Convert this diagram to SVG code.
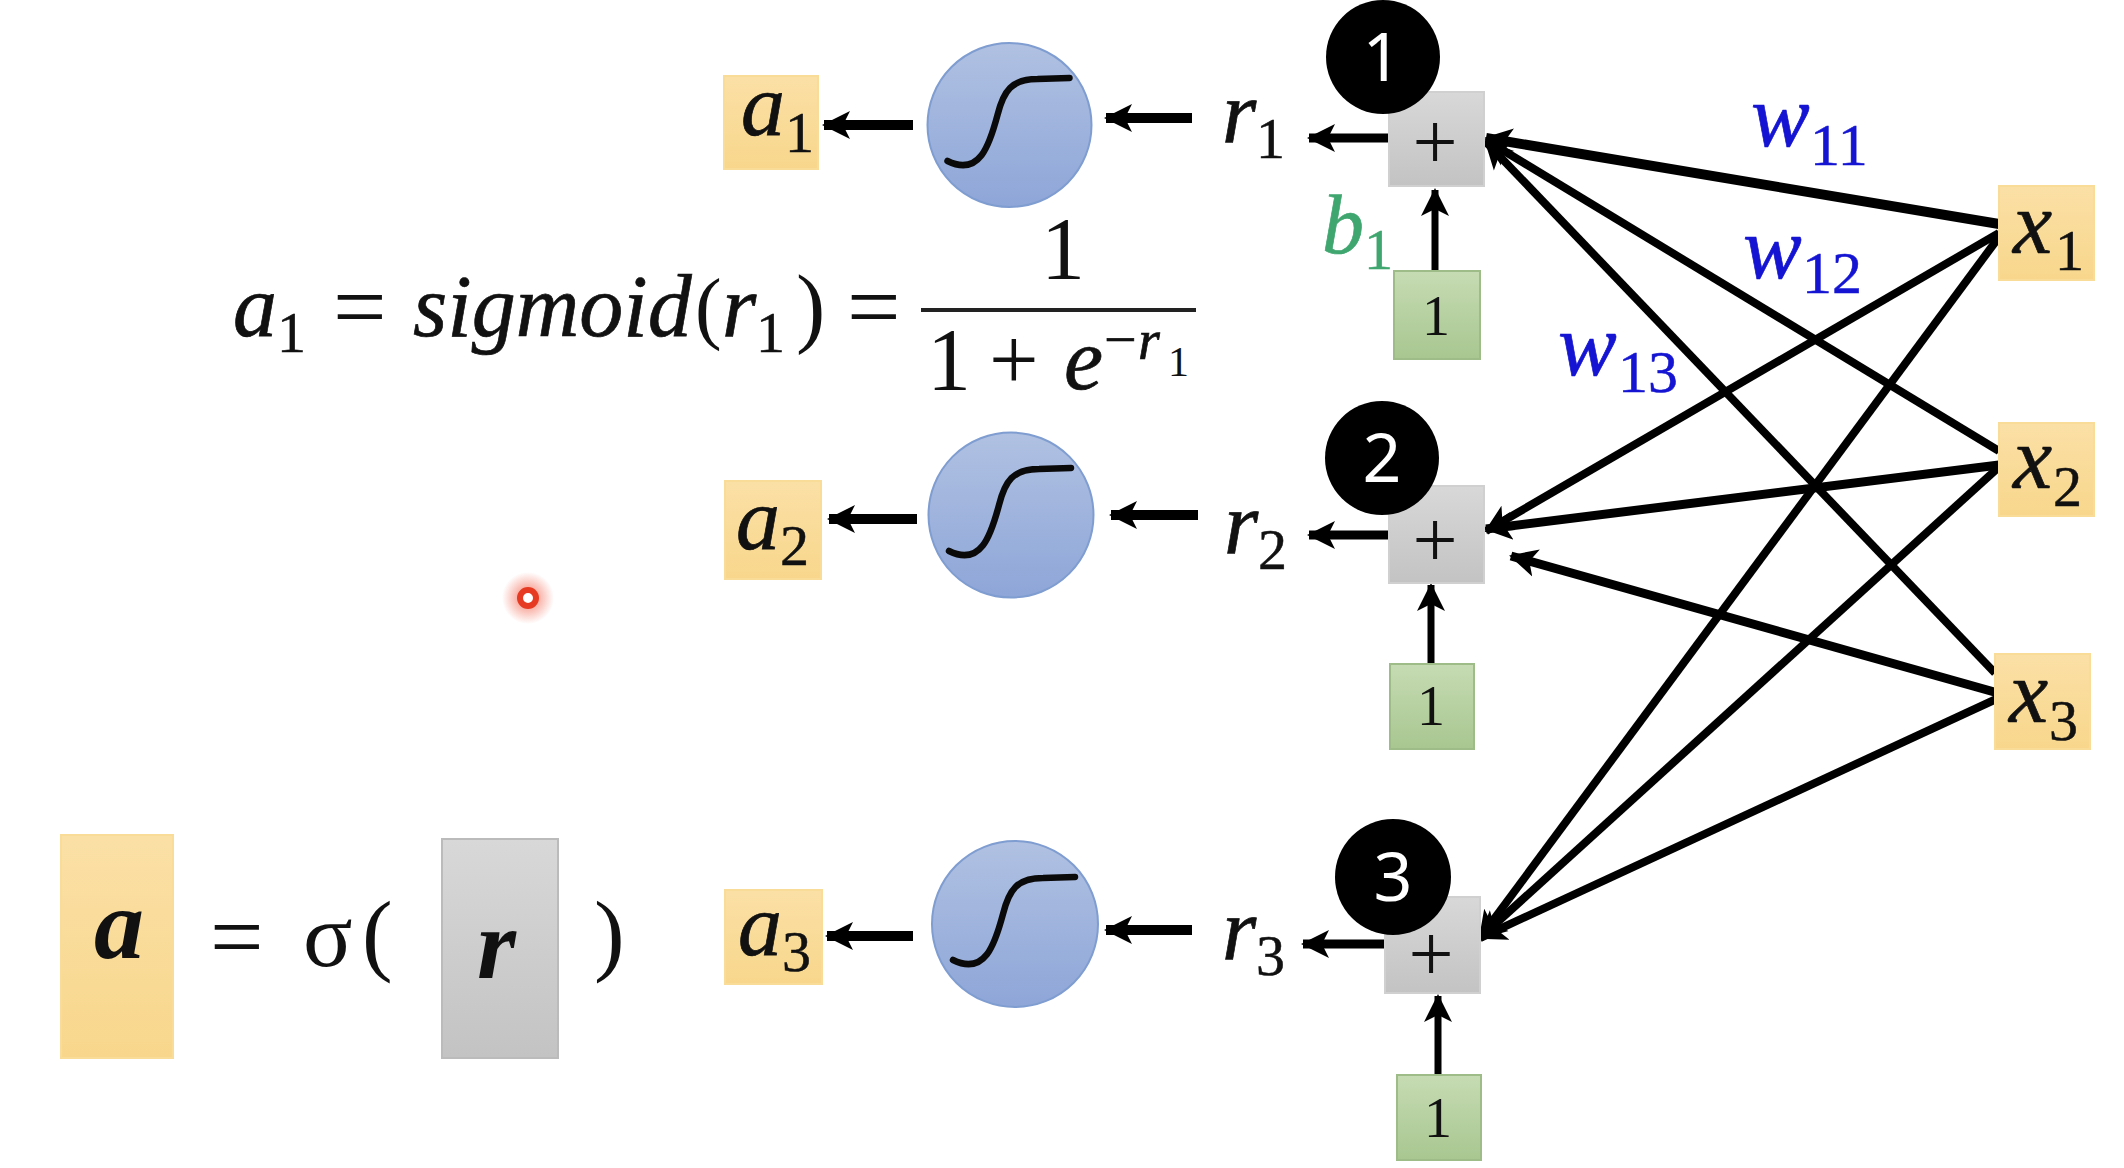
<svg xmlns="http://www.w3.org/2000/svg" width="2124" height="1168" viewBox="0 0 2124 1168">
<style>
text{font-family:"Liberation Serif","DejaVu Serif",serif;fill:#111}
.i{font-style:italic;font-size:88px;stroke:#111;stroke-width:.7}
.s{font-size:58px;stroke:#111;stroke-width:.5}
.m{font-size:88px}
.e{font-size:95px}
.w{font-style:italic;font-size:88px;fill:#1414d2;stroke:#1414d2;stroke-width:.7}
.ws{font-size:60px;fill:#1414d2;stroke:#1414d2;stroke-width:.5}
.gt{fill:#3fa66f;stroke:#3fa66f}
.b{font-family:"Noto Sans","Liberation Sans",sans-serif;font-size:68px;fill:#fff;text-anchor:middle}
.o{font-size:56px;text-anchor:middle}
.p{font-size:80px;text-anchor:middle}
.y{fill:url(#gy);stroke:#f8dc98;stroke-width:2}
.g{fill:url(#gg);stroke:#d0d0d0;stroke-width:2}
.n{fill:url(#gn);stroke:#9dbc88;stroke-width:2}
.c{fill:url(#gb);stroke:#7f9dd0;stroke-width:2}
.k{fill:#000}
.sg{fill:none;stroke:#0a0a0a;stroke-width:6.5;stroke-linecap:round}
.a{fill:none;stroke:#000;stroke-width:9;marker-end:url(#ah)}
.t{stroke-width:10}
.h{stroke-width:8}
.v{stroke-width:7}
</style>
<defs>
<linearGradient id="gy" x1="0" y1="0" x2="0" y2="1"><stop offset="0" stop-color="#fbe0a6"/><stop offset="1" stop-color="#f8d78c"/></linearGradient>
<linearGradient id="gg" x1="0" y1="0" x2="0" y2="1"><stop offset="0" stop-color="#d8d8d8"/><stop offset="1" stop-color="#c3c3c3"/></linearGradient>
<linearGradient id="gn" x1="0" y1="0" x2="0" y2="1"><stop offset="0" stop-color="#c6dbb3"/><stop offset="1" stop-color="#a8c790"/></linearGradient>
<linearGradient id="gb" x1="0" y1="0" x2="0" y2="1"><stop offset="0" stop-color="#b0c1e2"/><stop offset="1" stop-color="#8ea6d8"/></linearGradient>
<radialGradient id="halo"><stop offset="0.3" stop-color="#f04a30" stop-opacity="0.5"/><stop offset="1" stop-color="#f04a30" stop-opacity="0"/></radialGradient>
<marker id="ah" markerUnits="userSpaceOnUse" markerWidth="30" markerHeight="30" refX="26" refY="14" orient="auto" viewBox="0 0 30 28"><path d="M0,0L28,14L0,28L7,14Z" fill="#000"/></marker>
<path id="curve" class="sg" d="M-62,36C-30,52-20,20-12,-10C-6,-34 2,-46 28,-46L60,-47"/>
</defs>
<rect width="2124" height="1168" fill="#fff"/>

<g id="connectors">
<path class="a t" d="M1999,224L1486,138"/>
<path class="a h" d="M1999,451L1486,140"/>
<path class="a h" d="M1995,673L1486,142"/>
<path class="a h" d="M1999,233L1486,531"/>
<path class="a" d="M1999,465L1486,529"/>
<path class="a" d="M2005,695L1511,556"/>
<path class="a h" d="M1999,237L1480,938"/>
<path class="a h" d="M1999,467L1480,938"/>
<path class="a h" d="M2005,695L1480,938"/>
<path class="a t" d="M913,125L824,125"/>
<path class="a t" d="M1192,118L1106,118"/>
<path class="a" d="M1389,138L1309,138"/>
<path class="a t" d="M917,519L829,519"/>
<path class="a t" d="M1198,515L1111,515"/>
<path class="a" d="M1389,535L1309,535"/>
<path class="a t" d="M913,936L827,936"/>
<path class="a t" d="M1192,930L1106,930"/>
<path class="a" d="M1385,944L1303,944"/>
<path class="a v" d="M1435,271L1435,190"/>
<path class="a v" d="M1431,664L1431,585"/>
<path class="a v" d="M1438,1075L1438,996"/>
</g>

<g id="plus1"><rect class="g" x="1389" y="92" width="95" height="94"/><text class="p" x="1435" y="169">+</text></g>
<g id="plus2"><rect class="g" x="1389" y="486" width="95" height="97"/><text class="p" x="1435" y="567">+</text></g>
<g id="plus3"><rect class="g" x="1385" y="897" width="95" height="96"/><text class="p" x="1431" y="981">+</text></g>

<g id="badge1"><circle class="k" cx="1383" cy="57" r="57"/><text class="b" x="1382" y="81">1</text></g>
<g id="badge2"><circle class="k" cx="1382" cy="458" r="57"/><text class="b" x="1382" y="482">2</text></g>
<g id="badge3"><circle class="k" cx="1393" cy="877" r="58"/><text class="b" x="1393" y="901">3</text></g>

<g id="one1"><rect class="n" x="1394" y="271" width="86" height="88"/><text class="o" x="1436" y="335">1</text></g>
<g id="one2"><rect class="n" x="1390" y="664" width="84" height="85"/><text class="o" x="1431" y="725">1</text></g>
<g id="one3"><rect class="n" x="1397" y="1075" width="84" height="85"/><text class="o" x="1438" y="1137">1</text></g>

<g id="x1"><rect class="y" x="1999" y="186" width="95" height="94"/><text class="i" x="2013" y="253">x</text><text class="s" x="2055" y="270">1</text></g>
<g id="x2"><rect class="y" x="1999" y="423" width="95" height="93"/><text class="i" x="2013" y="488">x</text><text class="s" x="2053" y="506">2</text></g>
<g id="x3"><rect class="y" x="1995" y="654" width="95" height="95"/><text class="i" x="2009" y="722">x</text><text class="s" x="2049" y="740">3</text></g>

<g id="a1"><rect class="y" x="724" y="76" width="94" height="93"/><text class="i" x="741" y="135">a</text><text class="s" x="785" y="152">1</text></g>
<g id="a2"><rect class="y" x="725" y="481" width="96" height="98"/><text class="i" x="736" y="549">a</text><text class="s" x="780" y="565">2</text></g>
<g id="a3"><rect class="y" x="725" y="890" width="97" height="94"/><text class="i" x="738" y="955">a</text><text class="s" x="782" y="971">3</text></g>

<g id="sigmoid1"><circle class="c" cx="1009.500" cy="125" r="82"/><use href="#curve" x="1009.500" y="125"/></g>
<g id="sigmoid2"><circle class="c" cx="1011" cy="515" r="82.500"/><use href="#curve" x="1011" y="515"/></g>
<g id="sigmoid3"><circle class="c" cx="1015" cy="924" r="83"/><use href="#curve" x="1015" y="924"/></g>

<g id="r-labels">
<text class="i" x="1222" y="142">r</text><text class="s" x="1256" y="158">1</text>
<text class="i" x="1224" y="553">r</text><text class="s" x="1258" y="569">2</text>
<text class="i" x="1222" y="959">r</text><text class="s" x="1256" y="975">3</text>
<text class="i gt" style="font-size:84px" x="1322" y="253">b</text><text class="s gt" x="1364" y="269">1</text>
</g>

<g id="weights">
<text class="w" x="1751" y="146">w</text><text class="ws" x="1810" y="165">11</text>
<text class="w" x="1743" y="278">w</text><text class="ws" x="1802" y="293">12</text>
<text class="w" x="1558" y="375">w</text><text class="ws" x="1618" y="392">13</text>
</g>

<g id="sigmoid-equation">
<text class="i" x="233" y="336">a</text><text class="s" x="277" y="352">1</text>
<text class="e" x="333" y="339">=</text>
<text class="i" x="413" y="336">sigmoid</text>
<text style="font-size:80px" x="695" y="334">(</text>
<text class="i" x="722" y="336">r</text><text class="s" x="756" y="352">1</text>
<text class="m" x="796" y="336">)</text>
<text class="e" x="847" y="339">=</text>
<rect x="921" y="308" width="275" height="4" fill="#222"/>
<text class="m" x="1041" y="278">1</text>
<text class="m" x="927" y="389">1</text>
<text class="m" x="989" y="389">+</text>
<text class="i" x="1064" y="389">e</text>
<text class="s" x="1104" y="359">−</text>
<text class="i" style="font-size:56px" x="1138" y="359">r</text>
<text style="font-size:42px" x="1168" y="376">1</text>
</g>

<g id="vector-equation">
<rect class="y" x="61" y="835" width="112" height="223"/>
<rect class="g" x="442" y="839" width="116" height="219" style="stroke:#bbb"/>
<text x="94" y="958" style="font-size:100px;font-style:italic;font-weight:bold">a</text>
<text class="e" x="210" y="969">=</text>
<text x="303" y="966" style="font-size:92px">σ</text>
<text x="362" y="964" style="font-size:92px">(</text>
<text x="477" y="978" style="font-size:100px;font-style:italic;font-weight:bold">r</text>
<text x="594" y="964" style="font-size:92px">)</text>
</g>

<g id="pointer"><circle cx="528" cy="598" r="26" fill="url(#halo)"/><circle cx="528" cy="598" r="8" fill="#fff" stroke="#e63b22" stroke-width="6"/></g>
</svg>
